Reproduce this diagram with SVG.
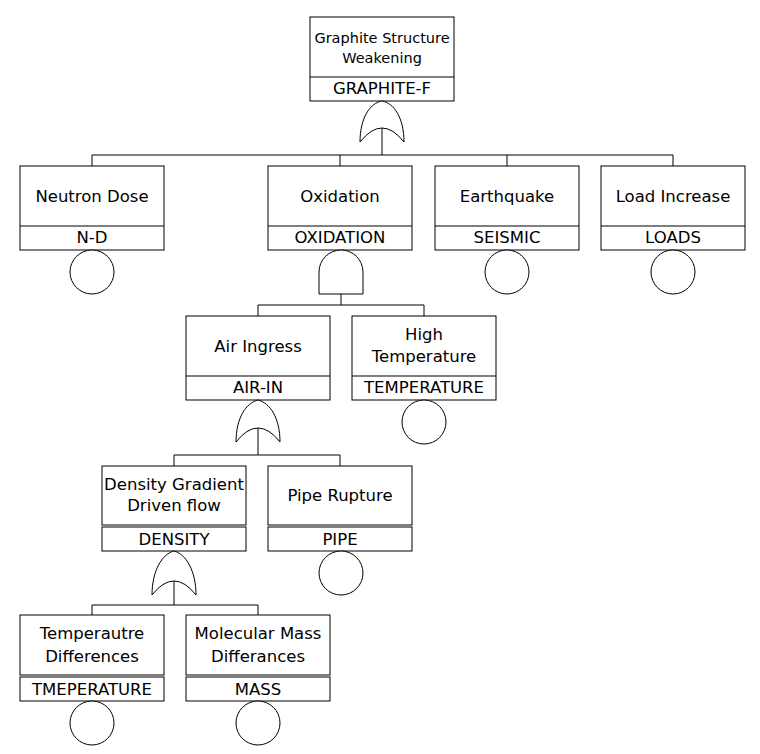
<svg xmlns="http://www.w3.org/2000/svg" width="760" height="754" viewBox="0 0 760 754">
<style>
rect,path,circle,line{fill:#fff;stroke:#000;stroke-width:1}
text{font-family:"DejaVu Sans",Verdana,sans-serif;font-size:16.5px;text-anchor:middle;fill:#000}
.t{font-size:14.5px}
</style>
<rect x="0" y="0" width="760" height="754" style="stroke:none"/>
<g id="connectors">
<line x1="382" y1="128" x2="382" y2="155"/>
<line x1="92" y1="155" x2="673" y2="155"/>
<line x1="92" y1="155" x2="92" y2="166"/>
<line x1="340" y1="155" x2="340" y2="166"/>
<line x1="507" y1="155" x2="507" y2="166"/>
<line x1="673" y1="155" x2="673" y2="166"/>
<line x1="341" y1="294" x2="341" y2="305"/>
<line x1="258" y1="305" x2="424" y2="305"/>
<line x1="258" y1="305" x2="258" y2="316"/>
<line x1="424" y1="305" x2="424" y2="316"/>
<line x1="258" y1="428" x2="258" y2="455"/>
<line x1="174" y1="455" x2="340" y2="455"/>
<line x1="174" y1="455" x2="174" y2="466"/>
<line x1="340" y1="455" x2="340" y2="466"/>
<line x1="174" y1="581" x2="174" y2="605"/>
<line x1="92" y1="605" x2="258" y2="605"/>
<line x1="92" y1="605" x2="92" y2="615"/>
<line x1="258" y1="605" x2="258" y2="615"/>
</g>
<g id="graphite">
<rect x="310" y="17" width="144" height="84"/>
<line x1="310" y1="77" x2="454" y2="77"/>
<text class="t" x="382" y="43">Graphite Structure</text>
<text class="t" x="382" y="63">Weakening</text>
<text x="382" y="94">GRAPHITE-F</text>
<path d="M360,142 C360,118 370,103 382,101 C394,103 404,118 404,142 Q382,114 360,142 Z"/>
</g>
<g id="neutron">
<rect x="20" y="166" width="144" height="84"/>
<line x1="20" y1="226" x2="164" y2="226"/>
<text x="92" y="202">Neutron Dose</text>
<text x="92" y="243">N-D</text>
<circle cx="92" cy="272" r="22"/>
</g>
<g id="oxidation">
<rect x="268" y="166" width="144" height="84"/>
<line x1="268" y1="226" x2="412" y2="226"/>
<text x="340" y="202">Oxidation</text>
<text x="340" y="243">OXIDATION</text>
<path d="M319,294 L319,272 A22,22 0 0 1 363,272 L363,294 Z"/>
</g>
<g id="earthquake">
<rect x="435" y="166" width="144" height="84"/>
<line x1="435" y1="226" x2="579" y2="226"/>
<text x="507" y="202">Earthquake</text>
<text x="507" y="243">SEISMIC</text>
<circle cx="507" cy="272" r="22"/>
</g>
<g id="load">
<rect x="601" y="166" width="144" height="84"/>
<line x1="601" y1="226" x2="745" y2="226"/>
<text x="673" y="202">Load Increase</text>
<text x="673" y="243">LOADS</text>
<circle cx="673" cy="272" r="22"/>
</g>
<g id="airin">
<rect x="186" y="316" width="144" height="84"/>
<line x1="186" y1="376" x2="330" y2="376"/>
<text x="258" y="352">Air Ingress</text>
<text x="258" y="393">AIR-IN</text>
<path d="M236,442 C236,418 246,403 258,400 C270,403 280,418 280,442 Q258,414 236,442 Z"/>
</g>
<g id="temperature">
<rect x="352" y="316" width="144" height="84"/>
<line x1="352" y1="376" x2="496" y2="376"/>
<text x="424" y="340">High</text>
<text x="424" y="362">Temperature</text>
<text x="424" y="393">TEMPERATURE</text>
<circle cx="424" cy="422" r="22"/>
</g>
<g id="density">
<rect x="102" y="466" width="144" height="59"/>
<rect x="102" y="527" width="144" height="24"/>
<text x="174" y="490">Density Gradient</text>
<text x="174" y="511">Driven flow</text>
<text x="174" y="545">DENSITY</text>
<path d="M152,595 C152,571 162,554 174,551 C186,554 196,571 196,595 Q174,567 152,595 Z"/>
</g>
<g id="pipe">
<rect x="268" y="466" width="144" height="59"/>
<rect x="268" y="527" width="144" height="24"/>
<text x="340" y="501">Pipe Rupture</text>
<text x="340" y="545">PIPE</text>
<circle cx="341" cy="573" r="22"/>
</g>
<g id="tmeperature">
<rect x="20" y="615" width="144" height="60"/>
<rect x="20" y="677" width="144" height="24"/>
<text x="92" y="639">Temperautre</text>
<text x="92" y="662">Differences</text>
<text x="92" y="695">TMEPERATURE</text>
<circle cx="92" cy="723" r="22"/>
</g>
<g id="mass">
<rect x="186" y="615" width="144" height="60"/>
<rect x="186" y="677" width="144" height="24"/>
<text x="258" y="639">Molecular Mass</text>
<text x="258" y="662">Differances</text>
<text x="258" y="695">MASS</text>
<circle cx="258" cy="723" r="22"/>
</g>
</svg>
